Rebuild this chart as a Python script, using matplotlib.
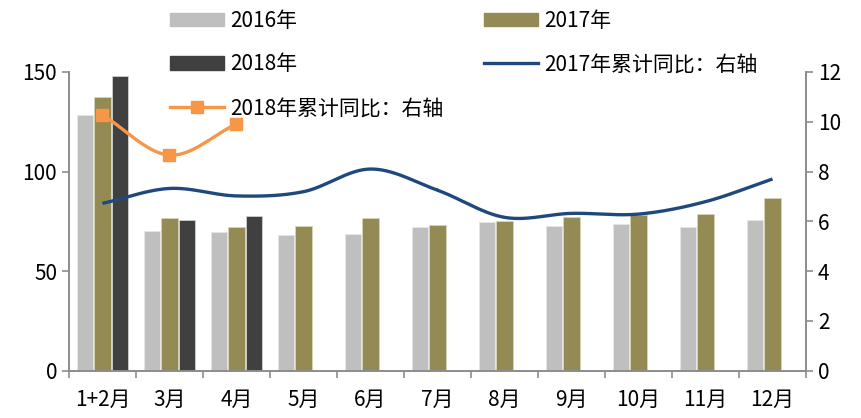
"""Monthly volume bars (2016-2018) with cumulative YoY lines on the right axis."""
import numpy as np
import matplotlib
matplotlib.use("Agg")
import matplotlib.pyplot as plt
from matplotlib.lines import Line2D
from matplotlib.patches import Patch

plt.rcParams["font.family"] = ["Noto Sans CJK SC", "DejaVu Sans"]

months = ["1+2月", "3月", "4月", "5月", "6月", "7月", "8月", "9月", "10月", "11月", "12月"]
v2016 = [128.5, 70.2, 69.4, 67.9, 68.6, 72.1, 74.5, 72.5, 73.6, 72.1, 75.6]
v2017 = [137.3, 76.5, 72.4, 72.8, 76.8, 73.1, 75.0, 77.3, 78.3, 78.6, 86.5]
v2018 = [148.0, 75.5, 77.8]
yoy2017 = [6.72, 7.32, 7.02, 7.19, 8.10, 7.25, 6.16, 6.32, 6.29, 6.79, 7.70]
yoy2018 = [10.27, 8.66, 9.91]

C16, C17, C18 = "#bfbfbf", "#948a54", "#404040"
C_L17, C_L18 = "#1f497d", "#f79646"
GRID = "#8c8c8c"


def smooth(y, n=30):
    # Catmull-Rom through the points, like Excel's "smoothed line"
    y = np.asarray(y, float)
    x = np.arange(len(y), dtype=float)
    P = np.column_stack([x, y])
    P = np.vstack([P[0] - (P[1] - P[0]), P, P[-1] + (P[-1] - P[-2])])
    out = []
    t = np.linspace(0, 1, n)[:, None]
    for i in range(1, len(P) - 2):
        p0, p1, p2, p3 = P[i - 1], P[i], P[i + 1], P[i + 2]
        seg = 0.5 * ((2 * p1) + (-p0 + p2) * t + (2 * p0 - 5 * p1 + 4 * p2 - p3) * t ** 2
                     + (-p0 + 3 * p1 - 3 * p2 + p3) * t ** 3)
        out.append(seg)
    s = np.vstack(out)
    return s[:, 0], s[:, 1]


fig = plt.figure(figsize=(8.61, 4.18), dpi=100)
ax = fig.add_axes([0.0801, 0.113, 0.856, 0.715])
ax2 = ax.twinx()

x = np.arange(len(months))
w, off = 0.24, 0.26
ax.bar(x - off, v2016, w, color=C16, edgecolor="#e6e6e6", lw=0.6, zorder=2)
ax.bar(x, v2017, w, color=C17, edgecolor="#d8d4b8", lw=0.6, zorder=2)
ax.bar(x[:len(v2018)] + off, v2018, w, color=C18, edgecolor="#d0d0d0", lw=0.6, zorder=2)

sx, sy = smooth(yoy2017)
ax2.plot(sx, sy, color=C_L17, lw=2.4, solid_capstyle="butt")
sx, sy = smooth(yoy2018)
ax2.plot(sx, sy, color=C_L18, lw=2.4)
ax2.plot(x[:len(yoy2018)], yoy2018, ls="none", marker="s", ms=9, color=C_L18)

ax.set_xlim(-0.5, len(months) - 0.5)
ax.set_ylim(0, 150)
ax2.set_ylim(0, 12)
ax.set_yticks([0, 50, 100, 150])
ax2.set_yticks(range(0, 13, 2))
ax.set_xticks(x, months)
ax.set_xticks(np.arange(-0.5, len(months)), minor=True)
ax.tick_params(axis="x", which="major", length=0, labelsize=15, pad=13)
ax.tick_params(axis="x", which="minor", length=5, color=GRID, width=1.2)
ax.tick_params(axis="y", length=5, color=GRID, width=1.2, labelsize=15)
ax2.tick_params(axis="y", length=5, color=GRID, width=1.2, labelsize=15)

for a in (ax, ax2):
    a.spines["top"].set_visible(False)
    for s in ("left", "right", "bottom"):
        a.spines[s].set_color(GRID)
        a.spines[s].set_linewidth(1.2)

handles = [
    Patch(color=C16, label="2016年"),
    Patch(color=C18, label="2018年"),
    Line2D([], [], color=C_L18, lw=2.4, marker="s", ms=9, label="2018年累计同比：右轴"),
    Patch(color=C17, label="2017年"),
    Line2D([], [], color=C_L17, lw=2.4, label="2017年累计同比：右轴"),
]
fig.legend(handles=handles, ncol=2, loc="upper left", bbox_to_anchor=(0.176, 1.022),
           frameon=False, fontsize=15, handlelength=2.6, handleheight=0.6,
           labelspacing=1.05, columnspacing=1.9, handletextpad=0.3)

fig.savefig("out.png", dpi=100)
